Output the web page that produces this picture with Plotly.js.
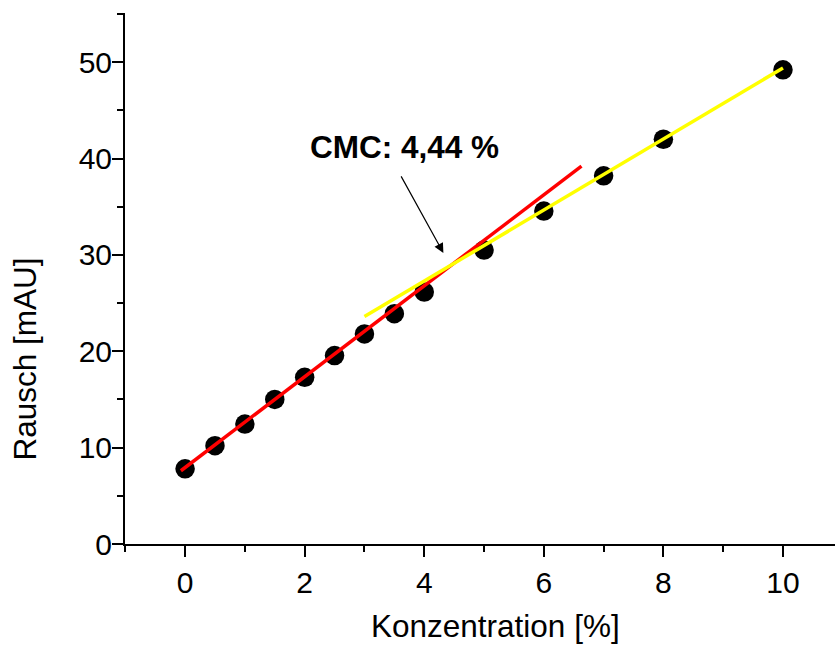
<!DOCTYPE html>
<html>
<head>
<meta charset="utf-8">
<script src="https://cdn.plot.ly/plotly-3.0.1.min.js"></script>
<style>html,body{margin:0;padding:0;background:#fff;}#chart{width:835px;height:646px;}</style>
</head>
<body>
<div id="chart"></div>
<script>
// Data
var konzentration = [0, 0.5, 1, 1.5, 2, 2.5, 3, 3.5, 4, 5, 6, 7, 8, 10];
var rausch = [7.8, 10.2, 12.45, 15.0, 17.3, 19.55, 21.8, 23.9, 26.15, 30.5, 34.55, 38.2, 42.0, 49.2];
// Fit line endpoints (as drawn)
var redX = [-0.07, 6.63];
var redY = [7.6, 39.2];
var yellowX = [3.0, 10.0];
var yellowY = [23.6, 49.4];
var xTicks = [0, 2, 4, 6, 8, 10];
var yTicks = [0, 10, 20, 30, 40, 50];
var cmcLabel = 'CMC: 4,44 %';
var xTitle = 'Konzentration [%]';
var yTitle = 'Rausch [mAU]';

var fontFam = 'Liberation Sans, Arial, sans-serif';

var traces = [
  {x: konzentration, y: rausch, mode: 'markers', type: 'scatter',
   marker: {color: '#000', size: 19.5}, hoverinfo: 'x+y'},
  {x: redX, y: redY, mode: 'lines', type: 'scatter',
   line: {color: '#ff0000', width: 3.5}},
  {x: yellowX, y: yellowY, mode: 'lines', type: 'scatter',
   line: {color: '#ffff00', width: 3.5}}
];

var axisCommon = {
  showline: true, linecolor: '#000', linewidth: 2,
  showgrid: false, zeroline: false,
  ticks: 'outside', ticklen: 11, tickwidth: 2, tickcolor: '#000',
  tickfont: {family: fontFam, size: 30, color: '#000'}
};

var layout = {
  width: 835, height: 646,
  margin: {l: 125, r: 0, t: 13, b: 102},
  paper_bgcolor: '#fff', plot_bgcolor: '#fff',
  showlegend: false,
  font: {family: fontFam, color: '#000'},
  xaxis: Object.assign({}, axisCommon, {
    range: [-1.005, 10.87],
    tickmode: 'array', tickvals: xTicks, ticktext: xTicks.map(String),
    minor: {dtick: 1, tick0: -1, ticks: 'outside', ticklen: 6, tickwidth: 2, tickcolor: '#000'}
  }),
  yaxis: Object.assign({}, axisCommon, {
    range: [0, 55.1],
    ticklabelstandoff: -6,
    tickmode: 'array', tickvals: yTicks, ticktext: yTicks.map(String),
    minor: {dtick: 5, tick0: 0, ticks: 'outside', ticklen: 6, tickwidth: 2, tickcolor: '#000'}
  }),
  annotations: [
    {x: 3.67, y: 41.2, xref: 'x', yref: 'y', text: '<b>' + cmcLabel + '</b>',
     showarrow: false, font: {family: fontFam, size: 31.5, color: '#000'}},
    {x: 4.32, y: 30.2, ax: 3.6, ay: 38.3, xref: 'x', yref: 'y', axref: 'x', ayref: 'y',
     text: '', showarrow: true, arrowhead: 2, arrowsize: 1.6, arrowwidth: 1.2, arrowcolor: '#000'},
    {x: 0.5225, y: -0.1544, xref: 'paper', yref: 'paper', xanchor: 'center', yanchor: 'middle',
     text: xTitle, showarrow: false, font: {family: fontFam, size: 31.5, color: '#000'}},
    {x: -0.1415, y: 0.3484, xref: 'paper', yref: 'paper', xanchor: 'center', yanchor: 'middle',
     textangle: -90, text: yTitle, showarrow: false, font: {family: fontFam, size: 31.5, color: '#000'}}
  ]
};

Plotly.newPlot('chart', traces, layout, {displayModeBar: false, staticPlot: true});
</script>
</body>
</html>
